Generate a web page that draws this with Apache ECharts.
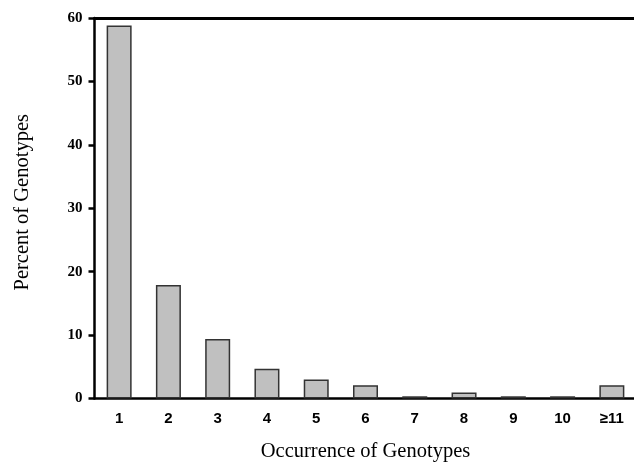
<!DOCTYPE html>
<html><head><meta charset="utf-8">
<script src="https://cdn.jsdelivr.net/npm/echarts@6/dist/echarts.min.js"></script>
<style>html,body{margin:0;padding:0;background:#fff}#c{width:634px;height:464px}</style>
</head><body><div id="c"></div>
<script>
const categories = ['1','2','3','4','5','6','7','8','9','10','≥11'];
const percents = [58.8, 17.9, 9.4, 4.7, 3.0, 2.1, 0.35, 0.95, 0.35, 0.35, 2.1];
const yTicks = [0, 10, 20, 30, 40, 50, 60];

const chart = echarts.init(document.getElementById('c'));
chart.setOption({
  animation: false,
  grid: {left: 94.5, top: 18, width: 542, bottom: 65.5, containLabel: false, outerBoundsMode: 'none'},
  xAxis: [{
    type: 'category', data: categories, position: 'bottom',
    axisLine: {lineStyle: {color: '#000', width: 2.5}},
    axisTick: {alignWithLabel: true, length: 6, lineStyle: {color: '#000', width: 2}},
    axisLabel: {margin: 13, color: '#000', fontFamily: 'Liberation Sans, Arial', fontWeight: 'bold', fontSize: 15},
    name: 'Occurrence of Genotypes', nameLocation: 'middle', nameGap: 43,
    nameTextStyle: {color: '#000', fontFamily: 'Liberation Serif, Times New Roman', fontSize: 20.5}
  }, {
    type: 'category', data: categories, position: 'top',
    axisLine: {show: true, lineStyle: {color: '#000', width: 3}},
    axisTick: {show: false}, axisLabel: {show: false}
  }],
  yAxis: {
    type: 'value', min: 0, max: 60, interval: 10,
    axisLine: {show: true, lineStyle: {color: '#000', width: 2.5}},
    axisTick: {show: true, length: 6, lineStyle: {color: '#000', width: 2.5}},
    splitLine: {show: false},
    axisLabel: {margin: 12, color: '#000', fontFamily: 'Liberation Serif, Times New Roman', fontWeight: 'bold', fontSize: 15,
      formatter: v => yTicks.includes(v) ? String(v) : ''},
    name: 'Percent of Genotypes', nameLocation: 'middle', nameGap: 61,
    nameTextStyle: {color: '#000', fontFamily: 'Liberation Serif, Times New Roman', fontSize: 20.5, padding: [0, 0, 0, 12]}
  },
  series: [{
    type: 'bar', data: percents, barWidth: 25,
    itemStyle: {color: '#c0c0c0', borderColor: '#333', borderWidth: 1.5}
  }]
});
</script></body></html>
